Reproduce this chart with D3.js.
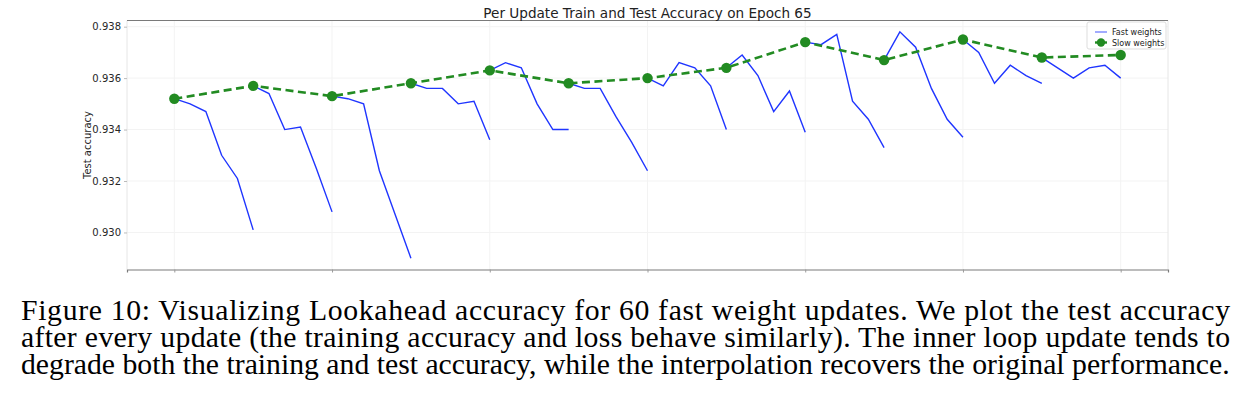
<!DOCTYPE html>
<html>
<head>
<meta charset="utf-8">
<script src="https://cdn.jsdelivr.net/npm/d3@7"></script>
<style>
  body { margin: 0; background: #fff; }
  svg { display: block; }
</style>
</head>
<body>
<svg id="chart" width="1246" height="396"></svg>
<script>
// slow weights, one value every 5 fast updates (update 0, 5, ..., 60)
const slowWeights = [0.9352, 0.9357, 0.9353, 0.9358, 0.9363, 0.9358, 0.9360,
  0.9364, 0.9374, 0.9367, 0.9375, 0.9368, 0.9369];

// fast weights after each of the 5 inner updates, per outer step
const fastUpdates = [
  [0.9350, 0.9347, 0.9330, 0.9321, 0.9301],
  [0.9354, 0.9340, 0.9341, 0.9325, 0.9308],
  [0.9352, 0.9350, 0.9324, 0.9307, 0.9290],
  [0.9356, 0.9356, 0.9350, 0.9351, 0.9336],
  [0.9366, 0.9364, 0.9350, 0.9340, 0.9340],
  [0.9356, 0.9356, 0.9345, 0.9335, 0.9324],
  [0.9357, 0.9366, 0.9364, 0.9357, 0.9340],
  [0.9369, 0.9361, 0.9347, 0.9355, 0.9339],
  [0.9373, 0.9377, 0.9351, 0.9344, 0.9333],
  [0.9378, 0.9372, 0.9356, 0.9344, 0.9337],
  [0.9370, 0.9358, 0.9365, 0.9361, 0.9358],
  [0.9364, 0.9360, 0.9364, 0.9365, 0.9360]
];

const yTicks = [0.930, 0.932, 0.934, 0.936, 0.938];
const xTicks = [0, 10, 20, 30, 40, 50, 60];
const innerSteps = 5;

const captionLines = [
  "Figure 10: Visualizing Lookahead accuracy for 60 fast weight updates. We plot the test accuracy",
  "after every update (the training accuracy and loss behave similarly). The inner loop update tends to",
  "degrade both the training and test accuracy, while the interpolation recovers the original performance."
];

const svg = d3.select("#chart");
const margin = { top: 20.5, left: 127, right: 78, bottom: 126.5 };
const width = 1246 - margin.left - margin.right;
const height = 396 - margin.top - margin.bottom;

const x = d3.scaleLinear().domain([-3, 63]).range([0, width]);
const y = d3.scaleLinear().domain([0.92856, 0.93824]).range([height, 0]);

const g = svg.append("g")
  .attr("transform", `translate(${margin.left},${margin.top})`);

// faint grid
g.append("g")
  .selectAll("line")
  .data(xTicks)
  .enter()
  .append("line")
  .attr("x1", d => x(d)).attr("x2", d => x(d))
  .attr("y1", 0).attr("y2", height)
  .attr("stroke", "#f3f3f3");

g.append("g")
  .selectAll("line")
  .data(yTicks)
  .enter()
  .append("line")
  .attr("x1", 0).attr("x2", width)
  .attr("y1", d => y(d)).attr("y2", d => y(d))
  .attr("stroke", "#f3f3f3");

// side spines are very light, top and bottom are grey
g.append("line").attr("x1", 0).attr("x2", 0).attr("y1", 0).attr("y2", height)
  .attr("stroke", "#e6e6e6");
g.append("line").attr("x1", width).attr("x2", width).attr("y1", 0).attr("y2", height)
  .attr("stroke", "#e6e6e6");
g.append("line").attr("x1", 0).attr("x2", width).attr("y1", 0).attr("y2", 0)
  .attr("stroke", "#7a7a7a").attr("stroke-width", 1.2);

const xAxis = g.append("g")
  .attr("transform", `translate(0,${height})`)
  .call(d3.axisBottom(x).tickValues(xTicks).tickSize(3).tickFormat(""));
xAxis.select(".domain").attr("stroke", "#7a7a7a").attr("stroke-width", 1.2);
xAxis.selectAll(".tick line").attr("stroke", "#9a9a9a");

const yAxis = g.append("g")
  .call(d3.axisLeft(y).tickValues(yTicks).tickSize(3).tickPadding(3).tickFormat(d3.format(".3f")));
yAxis.select(".domain").remove();
yAxis.selectAll(".tick line").attr("stroke", "#bbbbbb");
yAxis.selectAll(".tick text")
  .attr("font-family", "DejaVu Sans")
  .attr("font-size", "10px")
  .attr("fill", "#262626");

g.append("text")
  .attr("transform", `translate(${-36},${height / 2}) rotate(-90)`)
  .attr("text-anchor", "middle")
  .attr("font-family", "DejaVu Sans")
  .attr("font-size", "10px")
  .attr("fill", "#262626")
  .text("Test accuracy");

svg.append("text")
  .attr("x", margin.left + width / 2)
  .attr("y", 17.5)
  .attr("text-anchor", "middle")
  .attr("font-family", "DejaVu Sans")
  .attr("font-size", "13.6px")
  .attr("fill", "#222")
  .text("Per Update Train and Test Accuracy on Epoch 65");

// fast weight segments: start at the slow weights, then 5 inner updates
const fastLine = d3.line().x(d => x(d.step)).y(d => y(d.value));
const segments = fastUpdates.map((vals, k) => {
  const start = [{ step: k * innerSteps, value: slowWeights[k] }];
  return start.concat(vals.map((v, i) => ({ step: k * innerSteps + i + 1, value: v })));
});

g.selectAll(".fast")
  .data(segments)
  .enter()
  .append("path")
  .attr("class", "fast")
  .attr("d", fastLine)
  .attr("fill", "none")
  .attr("stroke", "#1f35ff")
  .attr("stroke-width", 1.4);

const slowData = slowWeights.map((v, k) => ({ step: k * innerSteps, value: v }));

g.append("path")
  .datum(slowData)
  .attr("d", fastLine)
  .attr("fill", "none")
  .attr("stroke", "#228b22")
  .attr("stroke-width", 2.6)
  .attr("stroke-dasharray", "8,4.5");

g.selectAll(".slow")
  .data(slowData)
  .enter()
  .append("circle")
  .attr("class", "slow")
  .attr("cx", d => x(d.step))
  .attr("cy", d => y(d.value))
  .attr("r", 5.2)
  .attr("fill", "#228b22");

// legend
const legend = svg.append("g").attr("transform", "translate(1087,22)");
legend.append("rect")
  .attr("width", 79).attr("height", 27).attr("rx", 2)
  .attr("fill", "#fff").attr("fill-opacity", 0.8)
  .attr("stroke", "#dddddd");
legend.append("line")
  .attr("x1", 8).attr("x2", 20).attr("y1", 10).attr("y2", 10)
  .attr("stroke", "#1f35ff").attr("stroke-opacity", 0.6).attr("stroke-width", 1.4);
legend.append("line")
  .attr("x1", 8).attr("x2", 20).attr("y1", 20.5).attr("y2", 20.5)
  .attr("stroke", "#228b22").attr("stroke-width", 2.4);
legend.append("circle")
  .attr("cx", 14).attr("cy", 20.5).attr("r", 4.2).attr("fill", "#228b22");
legend.selectAll(".lbl")
  .data(["Fast weights", "Slow weights"])
  .enter()
  .append("text")
  .attr("x", 25)
  .attr("y", (d, i) => 13 + i * 10.5)
  .attr("font-family", "DejaVu Sans")
  .attr("font-size", "8px")
  .attr("fill", "#222")
  .text(d => d);

// caption, justified like the paper
const capLeft = 21;
const capWidth = 1209;
const cap = svg.append("g");
const capText = cap.selectAll("text")
  .data(captionLines)
  .enter()
  .append("text")
  .attr("x", capLeft)
  .attr("y", (d, i) => 319.5 + i * 27.4)
  .attr("font-family", "Liberation Serif")
  .attr("font-size", "29px")
  .attr("fill", "#000")
  .text(d => d);

// last line is set at natural width: use it to fit the font size
const lastNode = capText.nodes()[2];
const natural = lastNode.getComputedTextLength();
const fs = 29 * capWidth / natural;
capText.attr("font-size", fs + "px");
capText.filter((d, i) => i < 2)
  .attr("textLength", capWidth)
  .attr("lengthAdjust", "spacing");
</script>
</body>
</html>
